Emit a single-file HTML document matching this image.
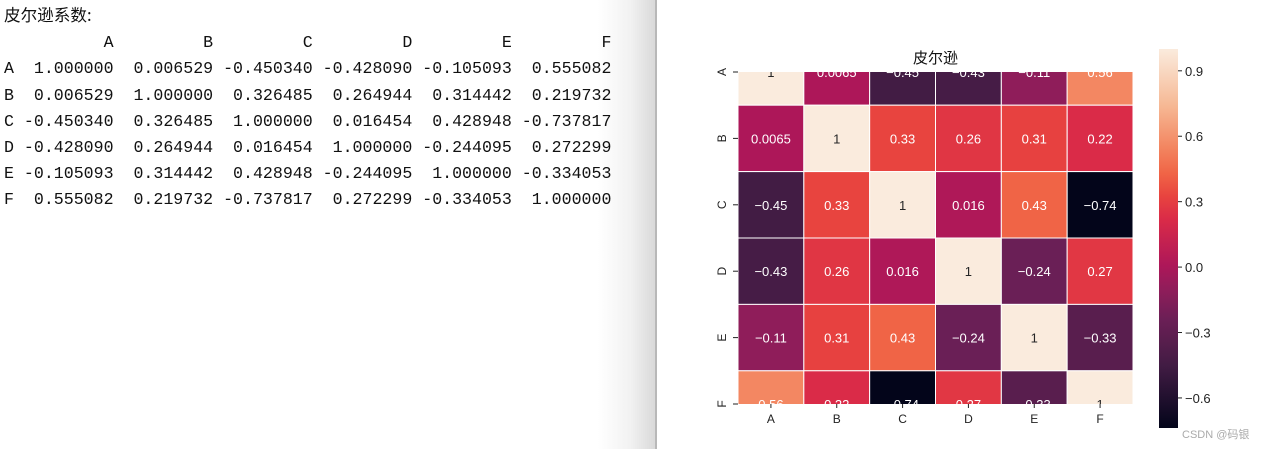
<!DOCTYPE html>
<html><head><meta charset="utf-8">
<style>
html,body{margin:0;padding:0;width:1265px;height:449px;overflow:hidden;background:#fff;}
#left{position:absolute;left:0;top:0;width:657px;height:449px;background:linear-gradient(to right,#fff 0,#fff 598px,#f2f2f2 630px,#d9d9d9 655px);}
#divider{position:absolute;left:655px;top:0;width:2px;height:449px;background:#b8b8b8;}
pre{position:absolute;left:4px;top:1px;margin:0;font-family:"Liberation Mono","WenQuanYi Zen Hei",monospace;font-size:16.6px;line-height:26.2px;color:#111;}
svg{position:absolute;left:0;top:0;}
</style></head><body>
<div id="left"></div>
<div id="divider"></div>
<pre><span style="font-family:'WenQuanYi Zen Hei','Noto Sans CJK SC',sans-serif">皮尔逊系数:</span>
          A         B         C         D         E         F
A  1.000000  0.006529 -0.450340 -0.428090 -0.105093  0.555082
B  0.006529  1.000000  0.326485  0.264944  0.314442  0.219732
C -0.450340  0.326485  1.000000  0.016454  0.428948 -0.737817
D -0.428090  0.264944  0.016454  1.000000 -0.244095  0.272299
E -0.105093  0.314442  0.428948 -0.244095  1.000000 -0.334053
F  0.555082  0.219732 -0.737817  0.272299 -0.334053  1.000000</pre>
<svg id="chart" width="1265" height="449"></svg>
<script>
const labels = ["A","B","C","D","E","F"];
const rowA = [1.000000,0.006529,-0.450340,-0.428090,-0.105093,0.555082];
const rowB = [0.006529,1.000000,0.326485,0.264944,0.314442,0.219732];
const rowC = [-0.450340,0.326485,1.000000,0.016454,0.428948,-0.737817];
const rowD = [-0.428090,0.264944,0.016454,1.000000,-0.244095,0.272299];
const rowE = [-0.105093,0.314442,0.428948,-0.244095,1.000000,-0.334053];
const rowF = [0.555082,0.219732,-0.737817,0.272299,-0.334053,1.000000];
const annots = [["1","0.0065","-0.45","-0.43","-0.11","0.56"],["0.0065","1","0.33","0.26","0.31","0.22"],["-0.45","0.33","1","0.016","0.43","-0.74"],["-0.43","0.26","0.016","1","-0.24","0.27"],["-0.11","0.31","0.43","-0.24","1","-0.33"],["0.56","0.22","-0.74","0.27","-0.33","1"]];
const cbTicks = [0.9,0.6,0.3,0.0,-0.3,-0.6];
const cbTickLabels = ["0.9","0.6","0.3","0.0","\u22120.3","\u22120.6"];
const rows = [rowA,rowB,rowC,rowD,rowE,rowF];

const NS="http://www.w3.org/2000/svg";
const svg=document.getElementById('chart');
const vmin=-0.737817, vmax=1.0;
const x0=738, x1=1133, yTop=72, yBot=404;
const cw=(x1-x0)/6, ch=(yBot-yTop)/5;
const xs=i=>x0+i*cw;            // column left
const ys=j=>yTop-ch/2+j*ch;      // row top (first/last half-clipped)
const stops=[[0,"#03051A"],[0.166,"#421C44"],[0.235,"#5A1E4E"],[0.286,"#6B1F56"],[0.364,"#8F1D5A"],[0.428,"#AD1759"],[0.551,"#DA2B48"],[0.612,"#E8443F"],[0.671,"#F06446"],[0.744,"#F38762"],[0.85,"#F6B894"],[1,"#FAEBDD"]];
function hx(h){return [1,3,5].map(k=>parseInt(h.substr(k,2),16));}
function cmap(v){let t=(v-vmin)/(vmax-vmin);t=Math.max(0,Math.min(1,t));
 for(let k=1;k<stops.length;k++){if(t<=stops[k][0]){const a=stops[k-1],b=stops[k];const f=(t-a[0])/(b[0]-a[0]);const ca=hx(a[1]),cb=hx(b[1]);return `rgb(${ca.map((c,i)=>Math.round(c+(cb[i]-c)*f)).join(',')})`;}}return stops[stops.length-1][1];}
function el(tag,attrs){const e=document.createElementNS(NS,tag);for(const k in attrs)e.setAttribute(k,attrs[k]);return e;}
const font='"Liberation Sans","WenQuanYi Zen Hei",sans-serif';
const clip=el('clipPath',{id:'hc'});clip.appendChild(el('rect',{x:x0,y:yTop,width:x1-x0,height:yBot-yTop}));
const defs=el('defs',{});defs.appendChild(clip);svg.appendChild(defs);
const g=el('g',{'clip-path':'url(#hc)'});svg.appendChild(g);
rows.forEach((r,j)=>r.forEach((v,i)=>{
 const rc=el('rect',{x:xs(i),y:ys(j),width:cw,height:ch,fill:cmap(v),stroke:'#fff','stroke-width':1});
 
 
 g.appendChild(rc);
 const t=(v-vmin)/(vmax-vmin);
 const tx=el('text',{x:xs(i)+cw/2,y:ys(j)+ch/2+5,'text-anchor':'middle','font-size':13,'font-family':font,fill:t>0.6&&v>0.9?'#262626':'#fff'});
 tx.textContent=annots[j][i].replace('-','\u2212');
 
 
 g.appendChild(tx);
}));
labels.forEach((l,i)=>{
 const cx=xs(i)+cw/2;
 const tk=el('line',{x1:cx,x2:cx,y1:yBot,y2:yBot+4,stroke:'#222'});
 
 
 svg.appendChild(tk);
 const tl=el('text',{x:cx,y:yBot+19,'text-anchor':'middle','font-size':12,'font-family':font,fill:'#222'});
 tl.textContent=l;
 
 
 svg.appendChild(tl);
 const cy=yTop+i*ch;
 const ty=el('line',{x1:x0-5,x2:x0,y1:cy,y2:cy,stroke:'#222'});
 
 
 svg.appendChild(ty);
 const yl=el('text',{x:0,y:0,'text-anchor':'middle','font-size':12,'font-family':font,fill:'#222',transform:`translate(${x0-12},${cy}) rotate(-90)`});
 yl.textContent=l;
 
 
 svg.appendChild(yl);
});
const title=el('text',{x:(x0+x1)/2,y:63,'text-anchor':'middle','font-size':15,'font-family':font,fill:'#111'});
title.textContent='皮尔逊';


svg.appendChild(title);
// colorbar
const cbx=1159,cbw=19,cbTop=49,cbBot=428;
const cy=v=>cbBot-(v-vmin)/(vmax-vmin)*(cbBot-cbTop);
const lg=el('linearGradient',{id:'cbg',x1:0,y1:1,x2:0,y2:0});
stops.forEach(s=>lg.appendChild(el('stop',{offset:s[0],'stop-color':s[1]})));
defs.appendChild(lg);
const cb=el('rect',{x:cbx,y:cbTop,width:cbw,height:cbBot-cbTop,fill:'url(#cbg)'});


svg.appendChild(cb);
cbTicks.forEach((v,k)=>{
 const y=cy(v);
 const tk=el('line',{x1:cbx+cbw,x2:cbx+cbw+4,y1:y,y2:y,stroke:'#222'});
 
 
 svg.appendChild(tk);
 const t=el('text',{x:cbx+cbw+7,y:y+5,'font-size':13,'font-family':font,fill:'#222'});
 t.textContent=cbTickLabels[k];
 
 
 svg.appendChild(t);
});
const wm=el('text',{x:1182,y:438,'font-size':11,'font-family':font,fill:'#aaa'});
wm.textContent='CSDN @码银';


svg.appendChild(wm);
</script>
</body></html>
